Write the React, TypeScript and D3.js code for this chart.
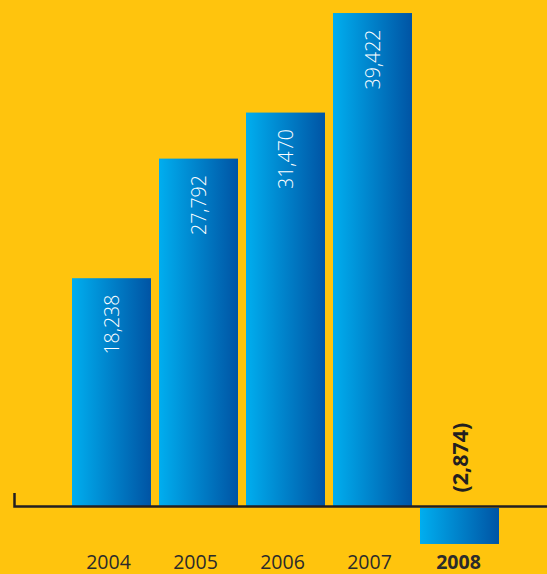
import React from "react";
import * as d3 from "d3";

const years = ["2004", "2005", "2006", "2007", "2008"];
const values = [18238, 27792, 31470, 39422, -2874];
const valueLabels = ["18,238", "27,792", "31,470", "39,422", "(2,874)"];
const highlightYear = "2008";

const W = 547;
const H = 574;

export default function App() {
  const x = d3
    .scaleBand<string>()
    .domain(years)
    .range([72, 499])
    .paddingInner(0.092)
    .paddingOuter(0);
  const y = d3.scaleLinear().domain([0, 40000]).range([506.5, 5.8]);
  const bw = x.bandwidth();
  const y0 = y(0);

  return (
    <svg
      width={W}
      height={H}
      viewBox={`0 0 ${W} ${H}`}
      style={{ position: "fixed", left: 0, top: 0, display: "block" }}
      fontFamily="'Open Sans', Lato, sans-serif"
    >
      <defs>
        <linearGradient id="barGrad" x1="0" y1="0" x2="1" y2="0">
          <stop offset="0" stopColor="#00AEEF" />
          <stop offset="1" stopColor="#0054A4" />
        </linearGradient>
      </defs>
      <rect x={0} y={0} width={W} height={H} fill="#FFC40D" />

      {years.map((yr, i) => {
        const v = values[i];
        const bx = x(yr) as number;
        const top = v >= 0 ? y(v) : y0 + 1.5;
        const h = v >= 0 ? y0 - y(v) : y(v) - y0;
        return <rect key={yr} x={bx} y={top} width={bw} height={Math.max(0, h)} fill="url(#barGrad)" />;
      })}

      {/* axis */}
      <path
        d={`M14.5,493 V${y0} H${W}`}
        fill="none"
        stroke="#231F20"
        strokeWidth={2.5}
      />

      {years.map((yr, i) => {
        const v = values[i];
        const cx = (x(yr) as number) + bw / 2;
        if (v >= 0) {
          const ty = y(v) + 16.5;
          return (
            <text
              key={"v" + yr}
              transform={`translate(${cx},${ty}) rotate(-90)`}
              textAnchor="end"
              dominantBaseline="central"
              fill="#ffffff"
              fontSize={19.5}
              fontWeight={300}
            >
              {valueLabels[i]}
            </text>
          );
        }
        return (
          <text
            key={"v" + yr}
            transform={`translate(${cx},${y0 - 14}) rotate(-90)`}
            textAnchor="start"
            dominantBaseline="central"
            fill="#231F20"
            fontSize={21.5}
            fontWeight={700}
          >
            {valueLabels[i]}
          </text>
        );
      })}

      {years.map((yr) => {
        const cx = (x(yr) as number) + bw / 2;
        const bold = yr === highlightYear;
        return (
          <text
            key={"t" + yr}
            x={cx - (bold ? 1 : 3)}
            y={568.5}
            textAnchor="middle"
            fill="#2b2b2b"
            fontSize={19.5}
            fontWeight={bold ? 700 : 400}
          >
            {yr}
          </text>
        );
      })}
    </svg>
  );
}
